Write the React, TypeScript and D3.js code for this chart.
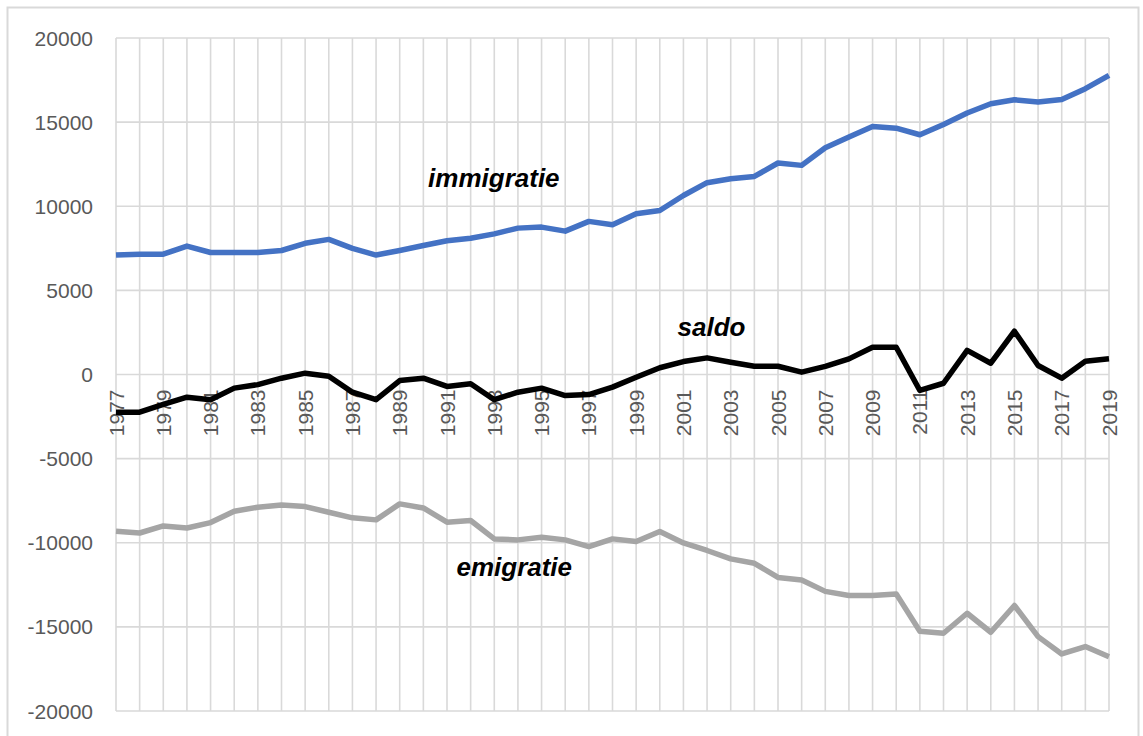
import React, { useRef, useEffect } from 'react';
import * as d3 from 'd3';

const years = d3.range(1977, 2020);

const immigratie = [
  7100, 7150, 7150, 7630, 7250, 7250, 7250, 7370, 7800, 8030,
  7500, 7100, 7370, 7670, 7950, 8100, 8360, 8700, 8760, 8520,
  9100, 8900, 9550, 9750, 10640, 11400, 11630, 11770, 12570, 12430,
  13480, 14110, 14740, 14640, 14250, 14860, 15540, 16090, 16330, 16190,
  16350, 16990, 17780
];

const saldo = [
  -2240, -2240, -1780, -1350, -1500, -810, -600, -220, 80, -100,
  -1050, -1500, -360, -220, -710, -550, -1500, -1050, -810, -1250,
  -1190, -750, -160, 400, 770, 990, 730, 490, 490, 140,
  480, 930, 1620, 1620, -950, -520, 1430, 670, 2570, 535,
  -220, 790, 930
];

const emigratie = [
  -9320, -9420, -9000, -9120, -8800, -8130, -7890, -7750, -7850, -8190,
  -8520, -8640, -7690, -7930, -8780, -8680, -9770, -9830, -9670, -9830,
  -10230, -9770, -9930, -9330, -10010, -10460, -10960, -11220, -12060, -12210,
  -12890, -13140, -13140, -13040, -15260, -15380, -14190, -15320, -13730, -15580,
  -16610, -16170, -16770
];

const yTicks = [20000, 15000, 10000, 5000, 0, -5000, -10000, -15000, -20000];

const series = [
  { name: 'immigratie', values: immigratie, color: '#4472C4' },
  { name: 'saldo', values: saldo, color: '#000000' },
  { name: 'emigratie', values: emigratie, color: '#A5A5A5' }
];

const labels = [
  { text: 'immigratie', year: 1990.2, value: 11120 },
  { text: 'saldo', year: 2000.75, value: 2260 },
  { text: 'emigratie', year: 1991.4, value: -11950 }
];

const App = () => {
  const svgRef = useRef(null);
  const w = 1143;
  const h = 736;
  const margin = { left: 116, right: 34, top: 38, bottom: 25 };

  useEffect(() => {
    const svg = d3.select(svgRef.current);
    svg.selectAll('*').remove();

    const x = d3.scaleLinear().domain([1977, 2019]).range([margin.left, w - margin.right]);
    const y = d3.scaleLinear().domain([-20000, 20000]).range([h - margin.bottom, margin.top]);

    // outer frame
    svg.append('rect')
      .attr('x', 7.5).attr('y', 7.5)
      .attr('width', 1131).attr('height', 740)
      .attr('fill', 'white')
      .attr('stroke', '#d9d9d9')
      .attr('stroke-width', 2);

    // grid
    svg.append('g')
      .selectAll('line')
      .data(yTicks)
      .join('line')
      .attr('x1', x(1977)).attr('x2', x(2019))
      .attr('y1', (d) => y(d)).attr('y2', (d) => y(d))
      .attr('stroke', '#d9d9d9')
      .attr('stroke-width', 1.6);

    svg.append('g')
      .selectAll('line')
      .data(years)
      .join('line')
      .attr('x1', (d) => x(d)).attr('x2', (d) => x(d))
      .attr('y1', y(20000)).attr('y2', y(-20000))
      .attr('stroke', '#d9d9d9')
      .attr('stroke-width', 1.6);

    // y labels
    svg.append('g')
      .selectAll('text')
      .data(yTicks)
      .join('text')
      .attr('x', 93)
      .attr('y', (d) => y(d))
      .attr('dy', '0.36em')
      .attr('text-anchor', 'end')
      .attr('font-family', 'Liberation Sans, Arial, sans-serif')
      .attr('font-size', 21)
      .attr('fill', '#595959')
      .text((d) => d);

    // x labels (every other year), rotated
    svg.append('g')
      .selectAll('text')
      .data(years.filter((d) => (d - 1977) % 2 === 0))
      .join('text')
      .attr('transform', (d) => `translate(${x(d)}, ${y(0) + 15}) rotate(-90)`)
      .attr('dy', '0.36em')
      .attr('text-anchor', 'end')
      .attr('font-family', 'Liberation Sans, Arial, sans-serif')
      .attr('font-size', 21)
      .attr('fill', '#595959')
      .text((d) => d);

    const line = d3.line()
      .x((d, i) => x(years[i]))
      .y((d) => y(d));

    svg.append('g')
      .selectAll('path')
      .data(series)
      .join('path')
      .attr('d', (d) => line(d.values))
      .attr('fill', 'none')
      .attr('stroke', (d) => d.color)
      .attr('stroke-width', 5.5)
      .attr('stroke-linejoin', 'round');

    svg.append('g')
      .selectAll('text')
      .data(labels)
      .join('text')
      .attr('x', (d) => x(d.year))
      .attr('y', (d) => y(d.value))
      .attr('font-family', 'Liberation Sans, Arial, sans-serif')
      .attr('font-size', 26)
      .attr('font-weight', 'bold')
      .attr('font-style', 'italic')
      .attr('fill', '#000')
      .text((d) => d.text);
  }, []);

  return (
    <svg
      ref={svgRef}
      width={w}
      height={h}
      style={{ position: 'absolute', left: 0, top: 0, display: 'block' }}
    />
  );
};

export default App;
